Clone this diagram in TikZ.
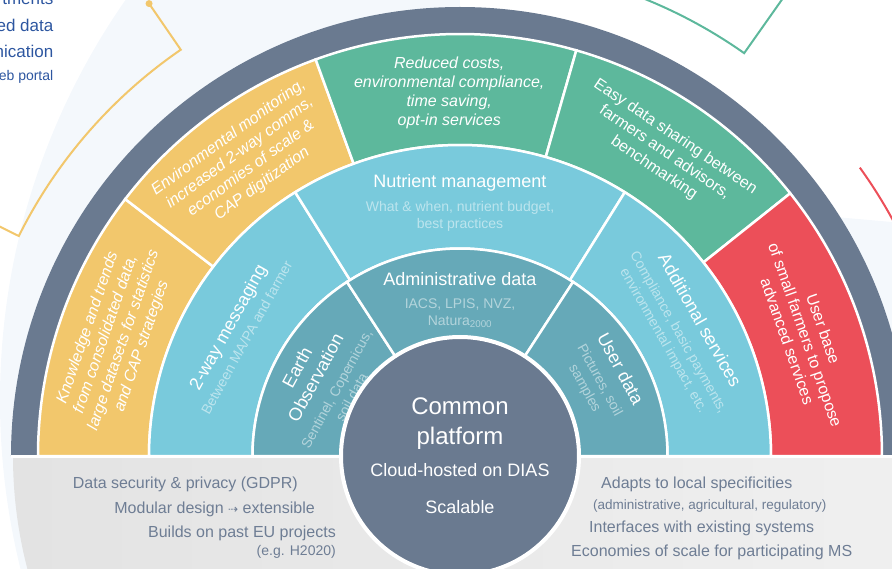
\documentclass[tikz,border=0pt]{standalone}
\usepackage{fontspec}
\setmainfont{Liberation Sans}
\newfontfamily\symfont{DejaVu Sans}
\usepackage{tikz}
\usetikzlibrary{calc}
\definecolor{slate}{HTML}{6A7A90}
\definecolor{ochre}{HTML}{F2C76C}
\definecolor{jade}{HTML}{5DB89C}
\definecolor{coral}{HTML}{EC4F59}
\definecolor{sky}{HTML}{79CADC}
\definecolor{petrol}{HTML}{66A9B8}
\definecolor{fog}{HTML}{F4F8FC}
\definecolor{inkgray}{HTML}{6E7D94}
\definecolor{portalblue}{HTML}{2D56A0}
\tikzstyle{seg}=[draw=white,line width=2.5pt]
\tikzstyle{calloutline}=[line width=2pt]
\tikzstyle{outtxt}=[text=white,align=center,inner sep=0pt,font=\fontsize{16}{19}\selectfont]
\tikzstyle{slanted}=[outtxt,font=\fontsize{16}{19}\selectfont\itshape]
\tikzstyle{ttl}=[text=white,align=center,inner sep=0pt,font=\fontsize{18}{21}\selectfont]
\tikzstyle{subtxt}=[text=white,text opacity=.5,align=center,inner sep=0pt,font=\fontsize{14}{17}\selectfont]
\tikzstyle{bottomnote}=[text=inkgray,inner sep=0pt,font=\fontsize{16}{19}\selectfont]
\tikzstyle{toptxt}=[text=portalblue,anchor=base east,inner sep=0pt,font=\fontsize{17}{20}\selectfont]

\begin{document}
\begin{tikzpicture}[x=1pt,y=1pt]
  \useasboundingbox (-460,-112) rectangle (432,456);
  \clip (-460,-112) rectangle (432,456);
  % faint backdrop
  \begin{scope}
    \clip (-460,-112) rectangle (0,456);
    \fill[fog] (240,56) circle[radius=700];
  \end{scope}
  \fill[fog] (375,239) -- (432,234) -- (432,0) -- (375,0) -- cycle;
  % brackets of the neighbouring groups
  \draw[ochre,calloutline] (124.5:549) -- (124.5:493)
     arc[start angle=124.5,end angle=153.5,radius=493] -- (153.5:560);
  \fill[ochre] (124.5:549) circle[radius=3.5];
  \draw[jade,calloutline] (54.8:580) -- (54.8:493)
     arc[start angle=54.8,end angle=85,radius=493];
  \draw[coral,calloutline] (35.8:493) arc[start angle=35.8,end angle=-15,radius=493];
  \node[toptxt] (t1) at (-406.5,451) {tments};
  \node[toptxt] (t2) at (-406.5,424) {ed data};
  \node[toptxt] (t3) at (-406.5,398) {nication};
  \node[toptxt,font=\fontsize{14}{17}\selectfont] (t4) at (-406.5,375) {eb portal};
%
  \shade[left color=black!11,right color=black!6]
     (180:447) arc[start angle=180,end angle=360,radius=447] -- cycle;
  \fill[slate] (180:422) -- (180:449) arc[start angle=180,end angle=0,radius=449]
     -- (0:422) arc[start angle=0,end angle=180,radius=422] -- cycle;
  \foreach \a/\b/\c in {180/142.5/ochre,142.5/110/ochre,110/74/jade,74/38.5/jade,38.5/0/coral}
    \filldraw[seg,fill=\c] (\a:311) -- (\a:422) arc[start angle=\a,end angle=\b,radius=422]
       -- (\b:311) arc[start angle=\b,end angle=\a,radius=311] -- cycle;
  \foreach \a/\b in {180/122,122/58,58/0}
    \filldraw[seg,fill=sky] (\a:207.5) -- (\a:311) arc[start angle=\a,end angle=\b,radius=311]
       -- (\b:207.5) arc[start angle=\b,end angle=\a,radius=207.5] -- cycle;
  \foreach \a/\b in {180/123,123/57,57/0}
    \filldraw[seg,fill=petrol] (\a:100) -- (\a:207.5) arc[start angle=\a,end angle=\b,radius=207.5]
       -- (\b:100) arc[start angle=\b,end angle=\a,radius=100] -- cycle;
  \draw[white,line width=3pt] (180:449) -- (0:449);
%
  \path (161:365) node[slanted,rotate=71] (knowledge)
     {Knowledge and trends\\from consolidated data,\\large datasets for statistics\\and CAP strategies};
  \path (126:365) node[slanted,rotate=36] (monitoring)
     {Environmental monitoring,\\increased 2-way comms,\\economies of scale \&\\CAP digitization};
  \path (91.7:363) node[slanted] (savings)
     {Reduced costs,\\environmental compliance,\\time saving,\\opt-in services};
  \path (56:366) node[outtxt,rotate=-34] (sharing)
     {Easy data sharing between\\farmers and advisors,\\benchmarking};
  \path (19.3:366) node[outtxt,rotate=-70.7] (userbase)
     {User base\\of small farmers to propose\\advanced services};
%
  \path (151:264) node[ttl,rotate=61] (messaging) {2-way messaging};
  \path (151:244) node[subtxt,rotate=61] (messagingsub) {Between MA/PA and farmer};
  \path (90:273) node[ttl] (nutrient) {Nutrient management};
  \path (90:240) node[subtxt] (nutrientsub) {What \& when, nutrient budget,\\best practices};
  \path (29.5:276) node[ttl,rotate=-60.5] (services) {Additional services};
  \path (29.5:242) node[subtxt,rotate=-60.5] (servicessub)
     {Compliance, basic payments,\\environmental impact, etc.};
%
  \path (151.5:175) node[ttl,rotate=61.5] (earth) {Earth\\Observation};
  \path (151.5:132) node[subtxt,rotate=61.5] (earthsub) {Sentinel, Copernicus,\\soil data};
  \path (90:177) node[ttl] (admin) {Administrative data};
  \path (90:143) node[subtxt] (adminsub) {IACS, LPIS, NVZ,\\Natura\textsubscript{2000}};
  \path (28.5:183) node[ttl,rotate=-61.5] (userdata) {User data};
  \path (28.5:150) node[subtxt,rotate=-61.5] (userdatasub) {Pictures, soil\\samples};
%
  \node[circle,fill=slate,draw=white,line width=4pt,minimum size=238pt,inner sep=0pt] (hub) at (0,0) {};
  \node[text=white,align=center,font=\fontsize{24}{30}\selectfont] (hubname) at (0,32.5) {Common\\platform};
  \node[text=white,font=\fontsize{18}{21}\selectfont] (cloud) at (0,-14) {Cloud-hosted on DIAS};
  \node[text=white,font=\fontsize{18}{21}\selectfont] (scalable) at (0,-51) {Scalable};
%
  \node[bottomnote,anchor=east] (gdpr) at (-162,-28) {Data security \& privacy (GDPR)};
  \node[bottomnote,anchor=east] (modular) at (-145,-53)
     {Modular design {\symfont\fontsize{12}{14}\selectfont ⇢} extensible};
  \node[bottomnote,anchor=east] (builds) at (-124,-77) {Builds on past EU projects};
  \node[bottomnote,anchor=east,font=\fontsize{14}{17}\selectfont] (eg) at (-124,-96) {(e.g. H2020)};
  \node[bottomnote,anchor=west] (adapts) at (141,-28) {Adapts to local specificities};
  \node[bottomnote,anchor=west,font=\fontsize{13.5}{16}\selectfont] (adaptsub) at (133,-50)
     {(administrative, agricultural, regulatory)};
  \node[bottomnote,anchor=west] (interfaces) at (129,-72) {Interfaces with existing systems};
  \node[bottomnote,anchor=west] (economies) at (111,-96) {Economies of scale for participating MS};
\end{tikzpicture}
\end{document}
